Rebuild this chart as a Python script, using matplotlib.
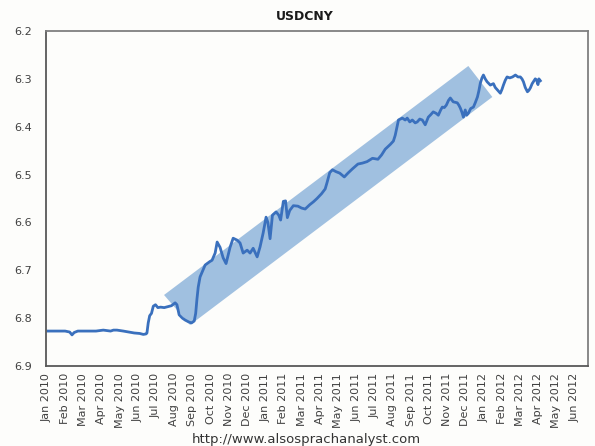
import matplotlib
matplotlib.use("Agg")
import matplotlib.pyplot as plt

# x positions are in months since Jan 2010 (0 = Jan 2010)
month_pos = [
    0.05, 0.5, 1.0, 1.25, 1.38, 1.5, 1.7, 2.2, 2.7, 3.1, 3.5, 3.66, 3.85, 4.2, 4.5, 4.8, 5.1, 5.3, 5.45,
    5.5, 5.57, 5.65, 5.75, 5.85, 5.97, 6.1, 6.25, 6.45, 6.65, 6.85, 7.05, 7.15, 7.27, 7.45, 7.6, 7.8, 7.95,
    8.1, 8.18, 8.25, 8.32, 8.42, 8.7, 8.95, 9.08, 9.25, 9.36, 9.52, 9.69, 9.85, 10.07, 10.24, 10.46, 10.62,
    10.79, 11.01, 11.17, 11.34, 11.56, 11.72, 11.89, 12.05, 12.15, 12.27, 12.4, 12.6, 12.75, 12.85, 13.0,
    13.12, 13.22, 13.35, 13.55, 13.8, 14.0, 14.2, 14.45, 14.65, 14.85, 15.1, 15.3, 15.4, 15.55, 15.7, 15.9,
    16.1, 16.35, 16.55, 16.8, 17.1, 17.35, 17.6, 17.9, 18.2, 18.4, 18.6, 18.88, 19.05, 19.15, 19.25, 19.33,
    19.54, 19.7, 19.81, 19.95, 20.09, 20.25, 20.36, 20.5, 20.64, 20.8, 20.97, 21.1, 21.24, 21.4, 21.52,
    21.65, 21.74, 21.85, 21.96, 22.08, 22.18, 22.34, 22.56, 22.65, 22.73, 22.82, 22.9, 23.0, 23.08, 23.17,
    23.3, 23.45, 23.55, 23.67, 23.75, 23.83, 23.92, 24.0, 24.1, 24.2, 24.3, 24.38, 24.55, 24.65, 24.77,
    24.93, 25.02, 25.1, 25.2, 25.3, 25.45, 25.6, 25.76, 25.9, 26.03, 26.12, 26.2, 26.3, 26.42, 26.5, 26.58,
    26.68, 26.75, 26.85, 26.92, 27.0, 27.05, 27.13,
]
usdcny = [
    6.827, 6.827, 6.827, 6.829, 6.835, 6.830, 6.827, 6.827, 6.827, 6.825, 6.827, 6.825, 6.825, 6.827, 6.829, 6.831, 6.832, 6.834, 6.833,
    6.831, 6.810, 6.795, 6.790, 6.775, 6.772, 6.778, 6.777, 6.778, 6.776, 6.774, 6.768, 6.772, 6.793, 6.800, 6.804, 6.808, 6.810,
    6.806, 6.790, 6.760, 6.735, 6.714, 6.689, 6.682, 6.679, 6.664, 6.641, 6.652, 6.674, 6.686, 6.652, 6.633, 6.637, 6.643,
    6.664, 6.658, 6.664, 6.654, 6.672, 6.651, 6.622, 6.589, 6.600, 6.634, 6.585, 6.578, 6.585, 6.595, 6.556,
    6.555, 6.590, 6.575, 6.565, 6.566, 6.570, 6.572, 6.563, 6.557, 6.550, 6.540, 6.530, 6.517, 6.496, 6.490, 6.494,
    6.497, 6.505, 6.497, 6.488, 6.478, 6.476, 6.473, 6.466, 6.468, 6.459, 6.447, 6.437, 6.430, 6.418, 6.400, 6.386,
    6.382, 6.386, 6.382, 6.390, 6.386, 6.392, 6.390, 6.384, 6.386, 6.396, 6.380, 6.375, 6.369, 6.372, 6.376,
    6.365, 6.359, 6.360, 6.355, 6.345, 6.340, 6.348, 6.350, 6.355, 6.361, 6.370, 6.380, 6.365, 6.376, 6.372,
    6.362, 6.359, 6.350, 6.338, 6.325, 6.309, 6.298, 6.292, 6.300, 6.306, 6.310, 6.313, 6.310, 6.318, 6.323,
    6.330, 6.322, 6.313, 6.303, 6.296, 6.298, 6.296, 6.292, 6.296, 6.296, 6.300, 6.306, 6.318, 6.327, 6.324, 6.319,
    6.310, 6.306, 6.300, 6.302, 6.312, 6.300, 6.304,
]

# trend channel (shaded band) corners
band_x = [6.44, 7.87, 24.49, 23.17]
band_y = [6.7516, 6.8143, 6.3379, 6.2731]

tick_labels = [
    "Jan 2010", "Feb 2010", "Mar 2010", "Apr 2010", "May 2010", "Jun 2010", "Jul 2010", "Aug 2010",
    "Sep 2010", "Oct 2010", "Nov 2010", "Dec 2010", "Jan 2011", "Feb 2011", "Mar 2011", "Apr 2011",
    "May 2011", "Jun 2011", "Jul 2011", "Aug 2011", "Sep 2011", "Oct 2011", "Nov 2011", "Dec 2011",
    "Jan 2012", "Feb 2012", "Mar 2012", "Apr 2012", "May 2012", "Jun 2012",
]
y_ticks = [6.2, 6.3, 6.4, 6.5, 6.6, 6.7, 6.8, 6.9]

fig = plt.figure(figsize=(5.95, 4.46), dpi=100, facecolor="#fdfdfb")
ax = fig.add_axes([46 / 595, 1 - 366 / 446, (588 - 46) / 595, (366 - 31) / 446])
ax.set_facecolor("#fdfdfb")

ax.fill(band_x, band_y, color="#a0c0e0", linewidth=0, zorder=1)
ax.plot(month_pos, usdcny, color="#3a70bd", linewidth=2.0, zorder=2, solid_joinstyle="round")

ax.set_ylim(6.9, 6.2)
ax.set_xlim(-0.05, 29.75)
ax.set_yticks(y_ticks)
ax.set_yticklabels([f"{v:.1f}" for v in y_ticks])
ax.set_xticks(range(len(tick_labels)))
ax.set_xticklabels(tick_labels, rotation=90)
ax.tick_params(axis="both", length=0, labelsize=8, labelcolor="#404040")
ax.tick_params(axis="x", pad=5)
ax.tick_params(axis="y", pad=10)

for s in ax.spines.values():
    s.set_color("#7f7f7f")
    s.set_linewidth(1.3)
ax.spines["left"].set_color("#595959")
ax.spines["bottom"].set_color("#595959")

fig.text(305 / 595, 1 - 17 / 446, "USDCNY", ha="center", va="center",
         fontsize=9, fontweight="bold", color="#1a1a1a")
fig.text(306 / 595, 1 - 440 / 446, "http://www.alsosprachanalyst.com", ha="center", va="center",
         fontsize=9.5, color="#333333")

fig.savefig("out.png", dpi=100, facecolor=fig.get_facecolor())
